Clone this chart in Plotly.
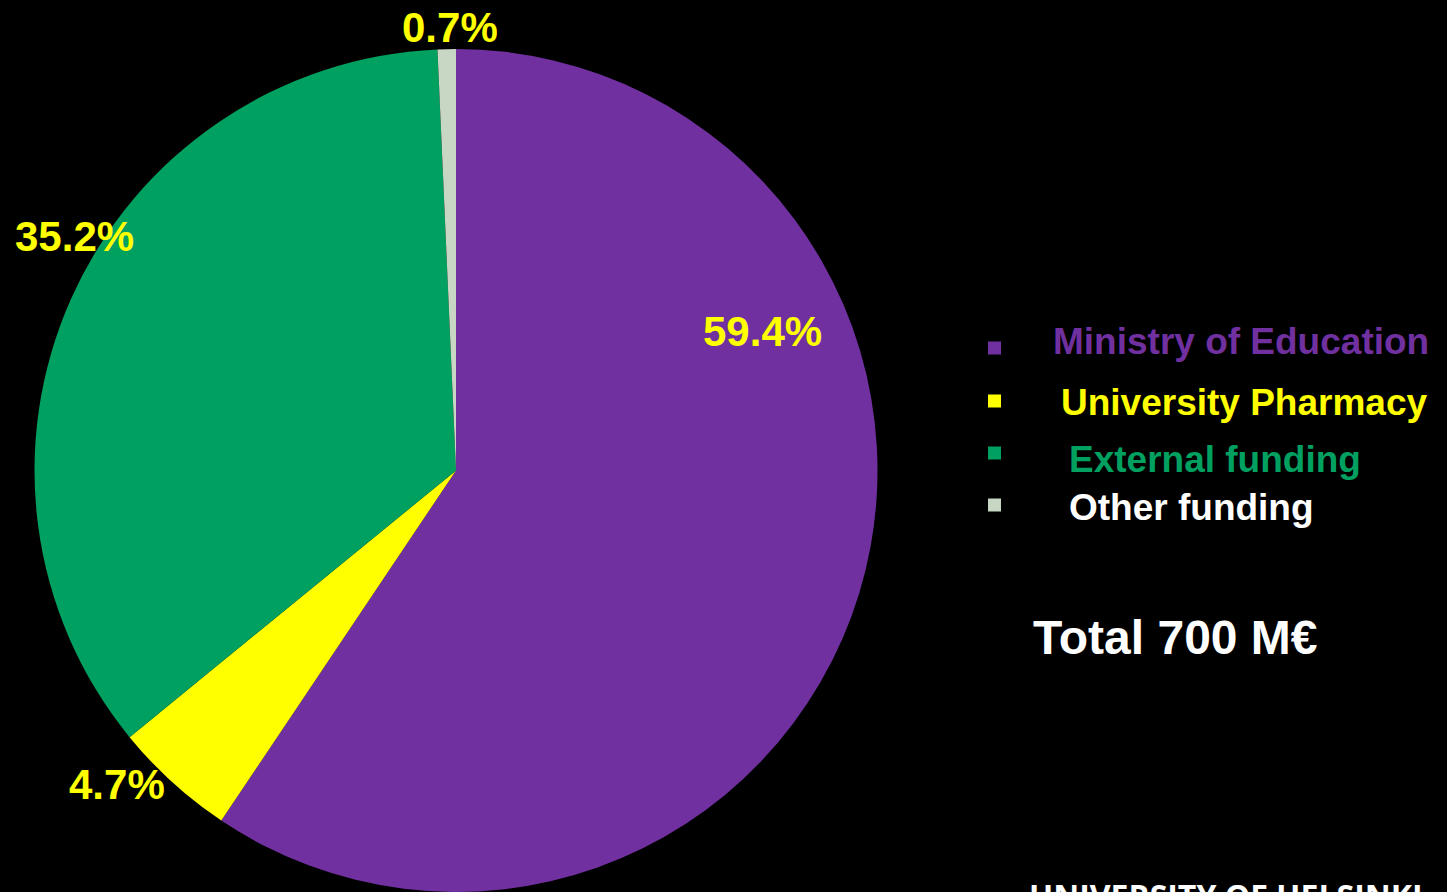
import plotly.graph_objects as go

W, H = 1447, 892

categories = ["Ministry of Education", "University Pharmacy", "External funding", "Other funding"]
values = [59.4, 4.7, 35.2, 0.7]
slice_colors = ["#7030A0", "#FFFF00", "#00A060", "#C8D6C4"]
legend_text_colors = ["#7030A0", "#FFFF00", "#00A060", "#FFFFFF"]
total_label = "Total 700 M€"
footer = "UNIVERSITY OF HELSINKI"

# pixel helpers
def px(x):
    return x / W

def py(y):
    return 1 - y / H

fig = go.Figure()
fig.add_trace(go.Pie(
    labels=categories,
    values=values,
    sort=False,
    direction="clockwise",
    rotation=0,
    marker=dict(colors=slice_colors, line=dict(width=0)),
    textinfo="none",
    hoverinfo="label+percent",
    showlegend=False,
    domain=dict(x=[px(33), px(879)], y=[0, py(49)]),
))

annotations = []
# percent labels (positions in pixels)
label_pos = [(762, 331), (117, 784), (74, 236), (450, 28)]
for v, (x, y) in zip(values, label_pos):
    annotations.append(dict(
        x=px(x), y=py(y), xref="paper", yref="paper",
        text=f"<b>{v:.1f}%</b>", showarrow=False,
        xanchor="center", yanchor="middle",
        font=dict(family="Liberation Sans, Arial", size=42, color="#FFFF00"),
    ))

# legend
shapes = []
sq_y = [348, 401, 453, 505]
txt_pos = [(1051, 341), (1059, 402), (1067, 459), (1067, 507)]
for cat, c_sq, c_txt, sy, (tx, ty) in zip(categories, slice_colors, legend_text_colors, sq_y, txt_pos):
    shapes.append(dict(
        type="rect", xref="paper", yref="paper",
        x0=px(988), x1=px(1001), y0=py(sy + 6.5), y1=py(sy - 6.5),
        fillcolor=c_sq, line=dict(width=0),
    ))
    annotations.append(dict(
        x=px(tx), y=py(ty), xref="paper", yref="paper",
        text=f"<b>{cat}</b>", showarrow=False,
        xanchor="left", yanchor="middle",
        font=dict(family="Liberation Sans, Arial", size=37, color=c_txt),
    ))

annotations.append(dict(
    x=px(1031), y=py(637), xref="paper", yref="paper",
    text=f"<b>{total_label}</b>", showarrow=False,
    xanchor="left", yanchor="middle",
    font=dict(family="Liberation Sans, Arial", size=48, color="#FFFFFF"),
))
annotations.append(dict(
    x=px(1027), y=py(872), xref="paper", yref="paper",
    text=f"<b>{footer}</b>", showarrow=False,
    xanchor="left", yanchor="top",
    font=dict(family="Open Sans, Liberation Sans", size=32, color="#FFFFFF"),
))

fig.update_layout(
    width=W, height=H,
    margin=dict(l=0, r=0, t=0, b=0),
    paper_bgcolor="#000000",
    plot_bgcolor="#000000",
    annotations=annotations,
    shapes=shapes,
    showlegend=False,
)

fig.write_html("out.html")
